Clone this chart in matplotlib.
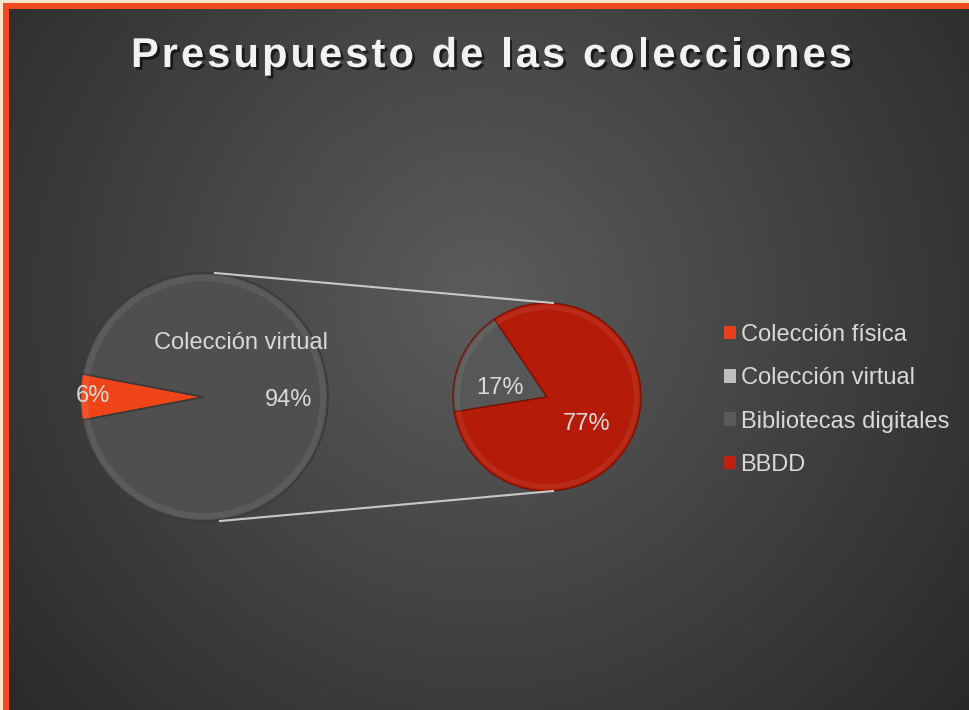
import numpy as np
import matplotlib
matplotlib.use("Agg")
from matplotlib import pyplot as plt
from matplotlib.patches import Rectangle, Patch
from matplotlib.font_manager import FontProperties
import matplotlib.patheffects as pe

# data
title = "Presupuesto de las colecciones"
main_labels = ["Colección física", "Colección virtual"]
main_values = [6, 94]
sub_labels = ["Bibliotecas digitales", "BBDD"]
sub_values = [17, 77]
legend_labels = ["Colección física", "Colección virtual", "Bibliotecas digitales", "BBDD"]

W, H = 969, 710
fig = plt.figure(figsize=(W / 100, H / 100), dpi=100)
ax = fig.add_axes([0, 0, 1, 1])
ax.set_xlim(0, W)
ax.set_ylim(0, H)
ax.set_aspect("equal")
ax.axis("off")

# radial gradient background
yy, xx = np.mgrid[0:H, 0:W]
r = np.sqrt((xx - 480) ** 2 + (yy - 410) ** 2)
val = 0.36 - 0.20 * np.clip(r / 640, 0, 1)
bg = np.dstack([val, val, val])
ax.imshow(bg, extent=(0, W, H, 0), origin="upper", zorder=0)

# border (top + left only are visible)
ax.add_patch(Rectangle((0, 0), 3, H, color="#fbe6cc", zorder=10, lw=0))
ax.add_patch(Rectangle((3, 0), 6, H - 3, color="#f04b23", zorder=10, lw=0))
ax.add_patch(Rectangle((0, H - 3), W, 3, color="#fbe6cc", zorder=10, lw=0))
ax.add_patch(Rectangle((3, H - 9), W, 6, color="#f04b23", zorder=10, lw=0))

txt = "#d9d9d9"
fnt = "Liberation Sans"

# main pie
c1 = (204, H - 397)
r1 = 124
main_cols = ["#ee4418", "#4f4f4f"]
start1 = 180 - main_values[0] / 100 * 360 / 2
ax.pie(main_values, colors=main_cols, center=c1, radius=r1, startangle=start1,
       wedgeprops=dict(edgecolor="#3a3a3a", linewidth=1.2), frame=True)
# bevel rim
ax.pie(main_values, colors=["white", "white"], center=c1, radius=r1 - 2, startangle=start1,
       wedgeprops=dict(width=6, alpha=0.07, linewidth=0), frame=True)

# sub pie
c2 = (547, H - 397)
r2 = 94
sub_cols = ["#575757", "#b41b08"]
ax.pie(sub_values, colors=sub_cols, center=c2, radius=r2, startangle=124,
       wedgeprops=dict(edgecolor="#7a1205", linewidth=1.0), frame=True)
ax.pie(sub_values, colors=["white", "white"], center=c2, radius=r2 - 2, startangle=124,
       wedgeprops=dict(width=5, alpha=0.07, linewidth=0), frame=True)

ax.set_xlim(0, W)
ax.set_ylim(0, H)
ax.axis("off")

# connector lines
ax.plot([215, 553], [H - 273, H - 303], color="#c8c8c8", lw=1.5, zorder=1)
ax.plot([220, 553], [H - 521, H - 491], color="#c8c8c8", lw=1.5, zorder=1)

# data labels
fs = 17
ax.text(241, H - 343, main_labels[1], color=txt, fontsize=fs, family=fnt, ha="center", va="center")
ax.text(289, H - 400, f"{main_values[1]}%", color=txt, fontsize=fs, family=fnt, ha="center", va="center")
ax.text(93, H - 396, f"{main_values[0]}%", color=txt, fontsize=fs, family=fnt, ha="center", va="center")
ax.text(500, H - 388, f"{sub_values[0]}%", color=txt, fontsize=fs, family=fnt, ha="center", va="center")
ax.text(587, H - 424, f"{sub_values[1]}%", color=txt, fontsize=fs, family=fnt, ha="center", va="center")

# title, letter spaced: place char by char
renderer = fig.canvas.get_renderer()
fp = FontProperties(family=fnt, weight="bold", size=30)
def tw(s):
    return renderer.get_text_width_height_descent(s, fp, ismath=False)[0]
x_left, x_right = 131, 852
w0 = tw(title)
gap = (x_right - x_left - w0) / (len(title) - 1)
hw = tw("H")
shadow = [pe.SimplePatchShadow(offset=(2, -2), shadow_rgbFace="black", alpha=0.6), pe.Normal()]
for i, ch in enumerate(title):
    if ch == " ":
        continue
    x = x_left + (tw(title[:i] + "H") - hw if i > 0 else 0) + i * gap
    ax.text(x, H - 67, ch, color="#f2f2f2", fontproperties=fp, ha="left", va="baseline",
            path_effects=shadow)

# legend
leg_cols = ["#e8401a", "#bdbdbd", "#5a5a5a", "#c0200f"]
handles = [Patch(facecolor=c, edgecolor="none") for c in leg_cols]
leg = ax.legend(handles, legend_labels, loc="upper left", bbox_to_anchor=(724 / W, 1 - 324 / H),
                frameon=False, prop=dict(family=fnt, size=fs), labelcolor=txt,
                handlelength=0.5, handleheight=0.5, handletextpad=0.2, labelspacing=0.9,
                borderpad=0, borderaxespad=0)

fig.savefig("out.png", dpi=100)
